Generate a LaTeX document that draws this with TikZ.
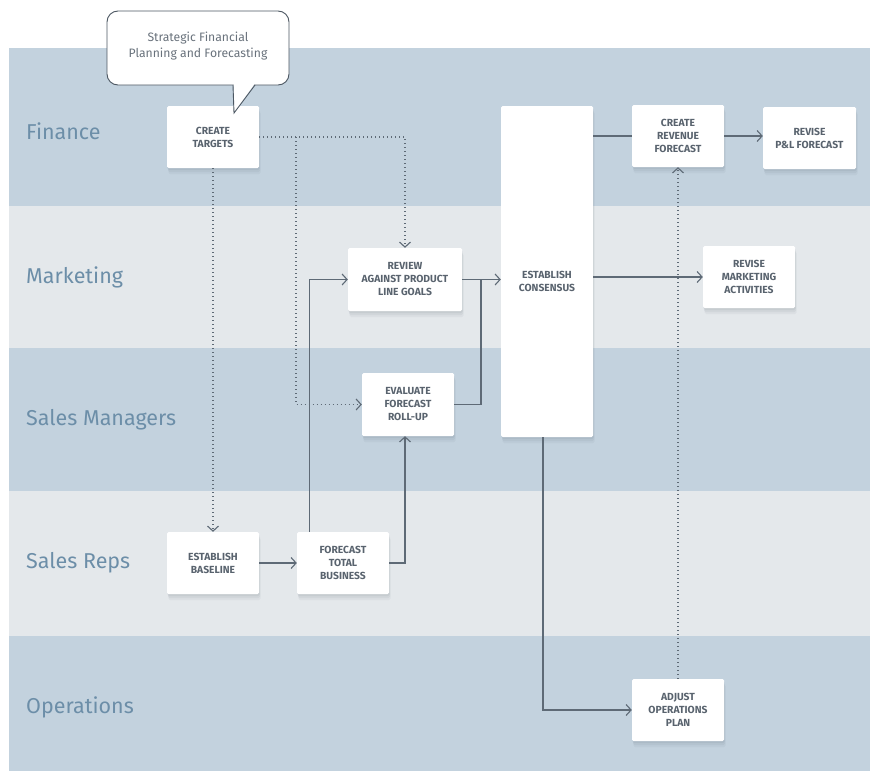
\documentclass[tikz,border=0pt]{standalone}
\usepackage{fontspec}
\setmainfont{Fira Sans}
\usetikzlibrary{arrows.meta,calc}

\definecolor{laneDark}{HTML}{C3D2DE}
\definecolor{laneLight}{HTML}{E4E8EB}
\definecolor{laneText}{HTML}{6C8EA8}
\definecolor{boxText}{HTML}{59636E}
\definecolor{wire}{HTML}{5E6A76}
\definecolor{shade}{HTML}{3A4A5A}
\definecolor{calloutLine}{HTML}{4C5762}
\definecolor{calloutText}{HTML}{69727C}

\tikzset{
  lanelabel/.style={anchor=base west, inner sep=0, text=laneText,
    font=\fontsize{21.5}{24}\selectfont},
  softshadow/.style={
    preaction={fill=shade, opacity=0.05, transform canvas={xshift=1.5pt, yshift=-6pt}},
    preaction={fill=shade, opacity=0.06, transform canvas={xshift=1pt, yshift=-4pt}},
    preaction={fill=shade, opacity=0.07, transform canvas={xshift=0.5pt, yshift=-2pt}}},
  task/.style={softshadow, fill=white, rounded corners=1.5pt, text=boxText,
    align=center, inner sep=0, minimum width=92pt, minimum height=62pt,
    font=\fontsize{10.3}{13}\selectfont\bfseries},
  tasklabel/.style={text=boxText, align=center, inner sep=0,
    font=\fontsize{10.3}{13}\selectfont\bfseries},
  flow/.style={draw=wire, line width=1.1pt,
    -{Straight Barb[length=5pt,width=11pt,line width=1.1pt]}},
  plain/.style={draw=wire, line width=1.1pt},
  dots/.style={draw=wire, line width=1.1pt, dash pattern=on 1.1pt off 2.9pt},
  dotflow/.style={dots,
    -{Straight Barb[length=5pt,width=11pt,line width=1.1pt]}},
}

\begin{document}
\begin{tikzpicture}[x=1pt,y=-1pt]
\useasboundingbox (0,0) rectangle (870,771);

% swimlanes
\fill[laneDark]  (9,48)  rectangle (870,206);
\fill[laneLight] (9,206) rectangle (870,348);
\fill[laneDark]  (9,348) rectangle (870,491);
\fill[laneLight] (9,491) rectangle (870,636);
\fill[laneDark]  (9,636) rectangle (870,771);

\node[lanelabel] (lFin) at (26,139) {Finance};
\node[lanelabel] (lMkt) at (26,283) {Marketing};
\node[lanelabel] (lMgr) at (26,425) {Sales Managers};
\node[lanelabel] (lRep) at (26,568) {Sales Reps};
\node[lanelabel] (lOps) at (26,713) {Operations};

% process steps
\node[task] (tgt)  at (213,137)   {CREATE\\TARGETS};
\node[task, minimum width=114pt, minimum height=63pt] (rev) at (405,279.5)
  {REVIEW\\AGAINST PRODUCT\\LINE GOALS};
\node[task, minimum height=63pt] (eval) at (408,404.5) {EVALUATE\\FORECAST\\ROLL-UP};
\node[task] (base) at (213,563)   {ESTABLISH\\BASELINE};
\node[task] (fcst) at (343,563)   {FORECAST\\TOTAL\\BUSINESS};
\node[task, minimum height=331pt] (cons) at (547,271.5) {};
\node[tasklabel] (consl) at (547,281) {ESTABLISH\\CONSENSUS};
\node[task] (crev) at (678,136)   {CREATE\\REVENUE\\FORECAST};
\node[task, minimum width=93pt] (pl) at (809.5,138) {REVISE\\P\&L FORECAST};
\node[task] (mkt)  at (749,277)   {REVISE\\MARKETING\\ACTIVITIES};
\node[task] (ops)  at (678,710)   {ADJUST\\OPERATIONS\\PLAN};

% dotted target hand-offs
\coordinate (split) at (296,137);
\draw[dotflow] (tgt.east) -| (rev.north);
\draw[dotflow] (split) |- (eval.west);
\draw[dotflow] (tgt.south) -- (base.north);

% bottom-up forecast flow
\draw[flow] (base.east) -- (fcst.west);
\draw[flow] ($(fcst.north west)+(13,0)$) |- (rev.west);
\draw[flow] (fcst.east) -| ($(eval.south)+(-3,0)$);
\coordinate (join) at (481,279.5);
\draw[flow] (rev.east) -- (rev.east -| cons.west);
\draw[plain] (eval.east) -| (join);

% consensus outputs
\draw[plain] (cons.east |- crev.west) -- (crev.west);
\draw[flow] (crev.east) -- (crev.east -| pl.west);
\draw[flow] (cons.east |- mkt.west) -- (mkt.west);
\draw[flow] ($(cons.south)+(-4,0)$) |- (ops.west);
\draw[dotflow] (ops.north) -- (crev.south);

% callout bubble
\draw[calloutLine, fill=white, line width=0.9pt, rounded corners=11pt]
  (107,11) rectangle (289,85);
\fill[white] (233.5,84) -- (234,113) -- (254.5,84) -- cycle;
\draw[calloutLine, line width=0.9pt, line join=miter]
  (233,85) -- (234,113) -- (255,85);
\node[text=calloutText, align=center, inner sep=0,
  font=\fontsize{12.2}{16}\selectfont] (note) at (198,46)
  {Strategic Financial\\Planning and Forecasting};
\end{tikzpicture}
\end{document}
